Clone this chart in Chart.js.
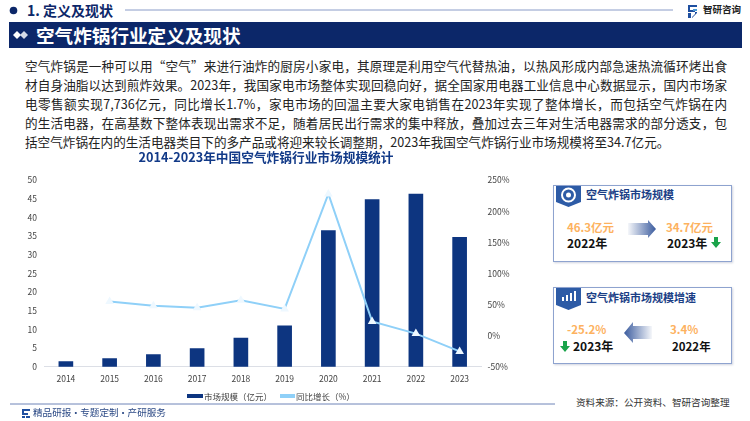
<!DOCTYPE html>
<html lang="zh">
<head>
<meta charset="utf-8">
<script src="https://cdn.jsdelivr.net/npm/chart.js@4/dist/chart.umd.min.js"></script>
<style>
  html, body { margin: 0; padding: 0; background: #fff; }
  body { width: 750px; height: 421px; position: relative; overflow: hidden; font-family: "Noto Sans CJK SC", "Noto Sans", sans-serif; }
  .abs { position: absolute; white-space: nowrap; line-height: 1; }
  .line { position: absolute; left: 25px; width: 702px; font-size: 12.6px; line-height: 19px; color: #222; white-space: nowrap; text-align: justify; text-align-last: justify; }
  .box { position: absolute; left: 553px; width: 177px; height: 75px; border: 1px solid #8ea3cf; box-shadow: 1px 1px 2px rgba(120,130,160,.35); }
  .orange { color: #fdb25f; font-size: 11.5px; font-weight: 700; }
  .year { color: #111; font-size: 12px; font-weight: 700; }
  .boxtitle { color: #1c3f86; font-size: 11px; font-weight: 700; }
  .legendtext { font-size: 8.5px; color: #444; top: 392px; }
  .swatch { position: absolute; height: 4px; top: 394px; }
  #wrap { position: absolute; left: 0; top: 148px; width: 532px; height: 243px; }
</style>
</head>
<body>
<svg class="abs" style="left:0;top:0" width="750" height="421">
  <defs>
    <linearGradient id="gr"><stop offset="0" stop-color="#3a5b9e" stop-opacity="0.05"/><stop offset="1" stop-color="#3a5b9e"/></linearGradient>
    <linearGradient id="gl"><stop offset="0" stop-color="#3a5b9e"/><stop offset="1" stop-color="#3a5b9e" stop-opacity="0.05"/></linearGradient>
  </defs>
  <circle cx="13.5" cy="10.5" r="3.8" fill="#0c2769"/>
  <line x1="125" y1="10" x2="673" y2="10" stroke="#8a9cc8" stroke-width="1"/>
  <rect x="9" y="22" width="733" height="26" fill="#0c2769"/>
  <path d="M13 35l4-4 4 4-4 4z" fill="#fff"/><path d="M20 35l4-4 4 4-4 4z" fill="#d5dbe8"/>
  <!-- logo -->
  <path d="M688 5h9v2h-7v3h5v2h-7zM688 13h3v5h-3zM692 18l5-5v-1h-2v2l-3 3z" fill="#1f4fa0"/>
  <path d="M693 9h4v2h-4z" fill="#4a9bd8"/>
  <line x1="10" y1="404" x2="555" y2="404" stroke="#6f84b8" stroke-width="1"/>
  <path d="M22 409h8v2h-6v2h4v2h-6zM22 416h3v2h-3zM26 418h4v-2h-4z" fill="#1f4fa0"/>
  <!-- panel tags -->
  <path d="M556 185h25v17l-12.5 5-12.5-5z" fill="#2d5ba6"/>
  <circle cx="568.5" cy="195" r="6.5" fill="none" stroke="#fff" stroke-width="2"/>
  <circle cx="568.5" cy="195" r="2.5" fill="#fff"/>
  <path d="M556 288h25v17l-12.5 5-12.5-5z" fill="#2d5ba6"/>
  <path d="M562 301v-4h2v4zM566 301v-6h2v6zM570 301v-8h2v8zM574 301v-10h2v10z" fill="#fff"/>
  <!-- panel arrows -->
  <path d="M628 223h20v-3l8 9-8 9v-3h-20z" fill="url(#gr)"/>
  <path d="M652 326h-19v-4l-9 11 9 10v-4h19z" fill="url(#gl)"/>
  <path d="M714 237h4v5h3l-5 6-5-6h3z" fill="#1aa34a"/>
  <path d="M563 341h4v5h3l-5 6-5-6h3z" fill="#1aa34a"/>
</svg>

<div class="abs" style="left:27px;top:3px;font-size:14px;font-weight:700;color:#0c2769">1. 定义及现状</div>
<div class="abs" style="left:703px;top:5px;font-size:9.5px;font-weight:700;color:#222">智研咨询</div>
<div class="abs" style="left:36px;top:26px;font-size:18.6px;font-weight:700;color:#fff">空气炸锅行业定义及现状</div>

<div class="line" style="top:56px">空气炸锅是一种可以用“空气”来进行油炸的厨房小家电，其原理是利用空气代替热油，以热风形成内部急速热流循环烤出食</div>
<div class="line" style="top:75px">材自身油脂以达到煎炸效果。2023年，我国家电市场整体实现回稳向好，据全国家用电器工业信息中心数据显示，国内市场家</div>
<div class="line" style="top:94px">电零售额实现7,736亿元，同比增长1.7%，家电市场的回温主要大家电销售在2023年实现了整体增长，而包括空气炸锅在内</div>
<div class="line" style="top:113px">的生活电器，在高基数下整体表现出需求不足，随着居民出行需求的集中释放，叠加过去三年对生活电器需求的部分透支，包</div>
<div class="line" style="top:132px;width:auto;text-align-last:left">括空气炸锅在内的生活电器类目下的多产品或将迎来较长调整期，2023年我国空气炸锅行业市场规模将至34.7亿元。</div>

<div id="wrap"><canvas id="chart"></canvas></div>
<div class="swatch" style="left:187px;width:16px;background:#0d3580"></div>
<div class="abs legendtext" id="legendSize" style="left:204px"></div>
<div class="swatch" style="left:280px;width:15px;background:#8fd0f8"></div>
<div class="abs legendtext" id="legendGrowth" style="left:296px"></div>

<div class="box" style="top:185px"></div>
<div class="box" style="top:287px"></div>
<div class="abs boxtitle" style="left:586px;top:189px">空气炸锅市场规模</div>
<div class="abs orange" style="left:567px;top:222px">46.3亿元</div>
<div class="abs year" style="left:567px;top:237px">2022年</div>
<div class="abs orange" style="left:666px;top:222px">34.7亿元</div>
<div class="abs year" style="left:667px;top:237px">2023年</div>
<div class="abs boxtitle" style="left:586px;top:292px">空气炸锅市场规模增速</div>
<div class="abs orange" style="left:567px;top:324px">-25.2%</div>
<div class="abs year" style="left:573px;top:340px">2023年</div>
<div class="abs orange" style="left:670px;top:324px">3.4%</div>
<div class="abs year" style="left:672px;top:341px;font-size:11.5px">2022年</div>

<div class="abs" style="left:576px;top:398px;font-size:9.6px;color:#333">资料来源：公开资料、智研咨询整理</div>
<div class="abs" style="left:33px;top:408px;font-size:9.6px;word-spacing:-2.5px;color:#2c4a86">精品研报 · 专题定制 · 产研服务</div>

<script>
const chartTitle = '2014-2023年中国空气炸锅行业市场规模统计';
const years = ['2014', '2015', '2016', '2017', '2018', '2019', '2020', '2021', '2022', '2023'];
const marketSize = [1.4, 2.2, 3.3, 4.9, 7.7, 11, 36.5, 44.8, 46.3, 34.7];
const growthRate = [null, 55, 48, 45, 57, 43, 228, 23, 3.4, -25.2];
const sizeLabel = '市场规模（亿元）';
const growthLabel = '同比增长（%）';

const tickFont = { family: '"Noto Sans CJK SC", "Noto Sans", sans-serif', size: 8.5 };

document.getElementById('legendSize').textContent = sizeLabel;
document.getElementById('legendGrowth').textContent = growthLabel;

new Chart(document.getElementById('chart'), {
  data: {
    labels: years,
    datasets: [{
      type: 'line',
      label: growthLabel,
      data: growthRate,
      yAxisID: 'y1',
      order: 1,
      borderColor: '#8fd0f8',
      borderWidth: 2,
      backgroundColor: '#eef8ff',
      pointStyle: 'triangle',
      pointRadius: 5,
      pointBorderWidth: 0,
      tension: 0,
      spanGaps: false
    }, {
      type: 'bar',
      label: sizeLabel,
      data: marketSize,
      yAxisID: 'y',
      order: 2,
      backgroundColor: '#0d3580',
      barThickness: 14
    }]
  },
  options: {
    responsive: true,
    maintainAspectRatio: false,
    animation: false,
    layout: { padding: 0 },
    plugins: {
      title: {
        display: true,
        text: chartTitle,
        color: '#123a88',
        font: { family: tickFont.family, size: 12.7, weight: '700' },
        padding: { top: 2, bottom: 15 }
      },
      tooltip: { enabled: false },
      legend: { display: false }
    },
    scales: {
      x: {
        grid: { display: false, drawTicks: false },
        border: { color: '#dcdfe6' },
        ticks: { color: '#444', font: tickFont, padding: 7, maxRotation: 0 }
      },
      y: {
        position: 'left',
        min: 0,
        max: 50,
        grid: { display: false, drawTicks: false },
        border: { display: false },
        ticks: { stepSize: 5, color: '#444', font: tickFont, padding: 7 },
        afterFit: (axis) => { axis.width = 44; }
      },
      y1: {
        position: 'right',
        min: -50,
        max: 250,
        grid: { display: false, drawTicks: false },
        border: { display: false },
        ticks: { stepSize: 50, color: '#444', font: tickFont, padding: 6, callback: (v) => v + '%' },
        afterFit: (axis) => { axis.width = 50.5; }
      }
    }
  }
});
</script>
</body>
</html>
